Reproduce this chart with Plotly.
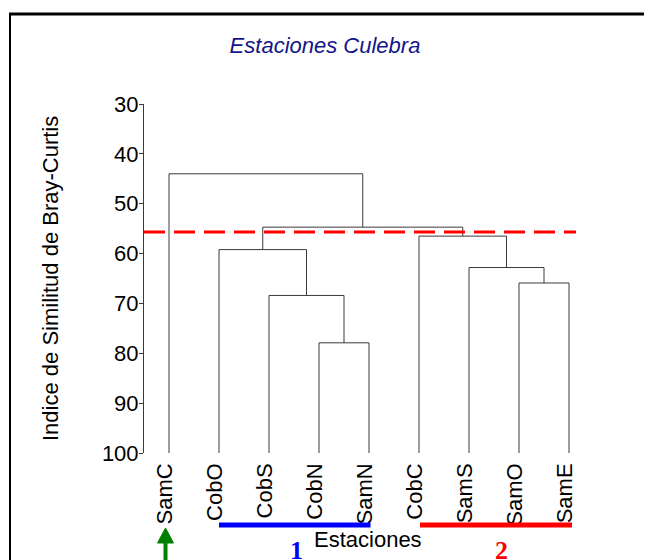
import plotly.graph_objects as go

# ---------------- data ----------------
leaves = ["SamC", "CobO", "CobS", "CobN", "SamN", "CobC", "SamS", "SamO", "SamE"]
# agglomeration steps (similarity level, Bray-Curtis %)
merge_a = ["CobN", "CobS", "SamO", "SamS", "CobO", "CobC", "G5", "SamC"]
merge_b = ["SamN", "G1", "SamE", "G3", "G2", "G4", "G6", "G7"]
merge_h = [77.9, 68.4, 65.9, 62.8, 59.2, 56.5, 54.7, 44.0]
cut_level = 55.65
y_ticks = [30, 40, 50, 60, 70, 80, 90, 100]
group1 = ["CobO", "SamN"]
group2 = ["CobC", "SamE"]

# ---------------- geometry helpers ----------------
OFF = 8  # page body margin
W_FIG, H_FIG = 652, 560
L, T = 144 - OFF, 104 - OFF
PW, PH = 450, 349
R = W_FIG - L - PW
B = H_FIG - T - PH


def px(xp):
    return (xp - OFF - L) / PW


def py(yp):
    return (T + PH - (yp - OFF)) / PH


FONT = "Liberation Sans, Arial, sans-serif"
FS = 22
LINE_C = "#3a3a3a"

# dendrogram node positions
pos = {name: (i, 100.0) for i, name in enumerate(leaves)}
xs, ys = [], []
for k, (a, b, h) in enumerate(zip(merge_a, merge_b, merge_h), start=1):
    xa, ha = pos[a]
    xb, hb = pos[b]
    xs += [xa, xa, xb, xb, None]
    ys += [ha, h, h, hb, None]
    pos[f"G{k}"] = ((xa + xb) / 2, h)

fig = go.Figure()
fig.add_trace(go.Scatter(x=xs, y=ys, mode="lines",
                         line=dict(color=LINE_C, width=1),
                         hoverinfo="skip", showlegend=False))

n = len(leaves)
fig.update_layout(
    width=W_FIG, height=H_FIG,
    margin=dict(l=L, r=R, t=T, b=B, autoexpand=False),
    paper_bgcolor="white", plot_bgcolor="white",
    showlegend=False,
    title=dict(text="Estaciones Culebra", x=(325 - OFF) / W_FIG, xanchor="center",
               y=1 - (45 - OFF) / H_FIG, yanchor="middle",
               font=dict(family=FONT, size=FS, color="#15158a", style="italic")),
    xaxis=dict(range=[-0.5, n - 0.5], tickmode="array",
               tickvals=[i - 0.08 for i in range(n)], ticktext=leaves, tickangle=-90,
               showline=False, showgrid=False, zeroline=False, ticks="",
               ticklabelstandoff=5,
               tickfont=dict(family=FONT, size=FS, color="black")),
    yaxis=dict(range=[100, 30], tickmode="array", tickvals=y_ticks,
               showline=True, linecolor=LINE_C, linewidth=1,
               ticks="outside", ticklen=4, tickcolor=LINE_C,
               ticklabelstandoff=-4,
               showgrid=False, zeroline=False,
               tickfont=dict(family=FONT, size=FS, color="black")),
)

shapes = []
# frame
shapes.append(dict(type="line", xref="paper", yref="paper",
                   x0=px(9), x1=px(700), y0=py(14), y1=py(14),
                   line=dict(color="black", width=3)))
shapes.append(dict(type="line", xref="paper", yref="paper",
                   x0=px(10), x1=px(10), y0=py(13), y1=py(600),
                   line=dict(color="black", width=2)))
# cut line
shapes.append(dict(type="line", xref="paper", yref="y",
                   x0=0, x1=px(576), y0=cut_level, y1=cut_level,
                   line=dict(color="#ff0000", width=3, dash="21px,9px")))
# group bars
i1a, i1b = leaves.index(group1[0]), leaves.index(group1[1])
i2a, i2b = leaves.index(group2[0]), leaves.index(group2[1])
shapes.append(dict(type="line", xref="x", yref="paper",
                   x0=i1a, x1=i1b + 0.03, y0=py(525), y1=py(525),
                   line=dict(color="#0000ff", width=5)))
shapes.append(dict(type="line", xref="x", yref="paper",
                   x0=i2a + 0.02, x1=i2b + 0.06, y0=py(525), y1=py(525),
                   line=dict(color="#ff0000", width=5)))
# green arrow under SamC
ax_c = -0.07
shapes.append(dict(type="line", xref="x", yref="paper",
                   x0=ax_c, x1=ax_c, y0=py(541), y1=py(570),
                   line=dict(color="#008000", width=4)))
shapes.append(dict(type="path", xref="paper", yref="paper",
                   path=f"M {px(165.5)},{py(528)} L {px(157.5)},{py(543)} L {px(173.5)},{py(543)} Z",
                   fillcolor="#008000", line=dict(color="#008000", width=1)))
fig.update_layout(shapes=shapes)

annotations = [
    dict(text="Indice de Similitud de Bray-Curtis", textangle=-90,
         xref="paper", yref="paper", x=px(50), y=py(279),
         xanchor="center", yanchor="middle", showarrow=False,
         font=dict(family=FONT, size=FS, color="black")),
    dict(text="Estaciones", xref="paper", yref="paper",
         x=px(368), y=py(539), xanchor="center", yanchor="middle",
         showarrow=False, font=dict(family=FONT, size=FS, color="black")),
    dict(text="<b>1</b>", xref="paper", yref="paper",
         x=px(296), y=py(550), xanchor="center", yanchor="middle",
         showarrow=False,
         font=dict(family="Liberation Serif, Times New Roman, serif", size=26, color="#0000ff")),
    dict(text="<b>2</b>", xref="paper", yref="paper",
         x=px(501), y=py(550), xanchor="center", yanchor="middle",
         showarrow=False,
         font=dict(family="Liberation Serif, Times New Roman, serif", size=26, color="#ff0000")),
]
fig.update_layout(annotations=annotations)

fig.write_html("out.html")
